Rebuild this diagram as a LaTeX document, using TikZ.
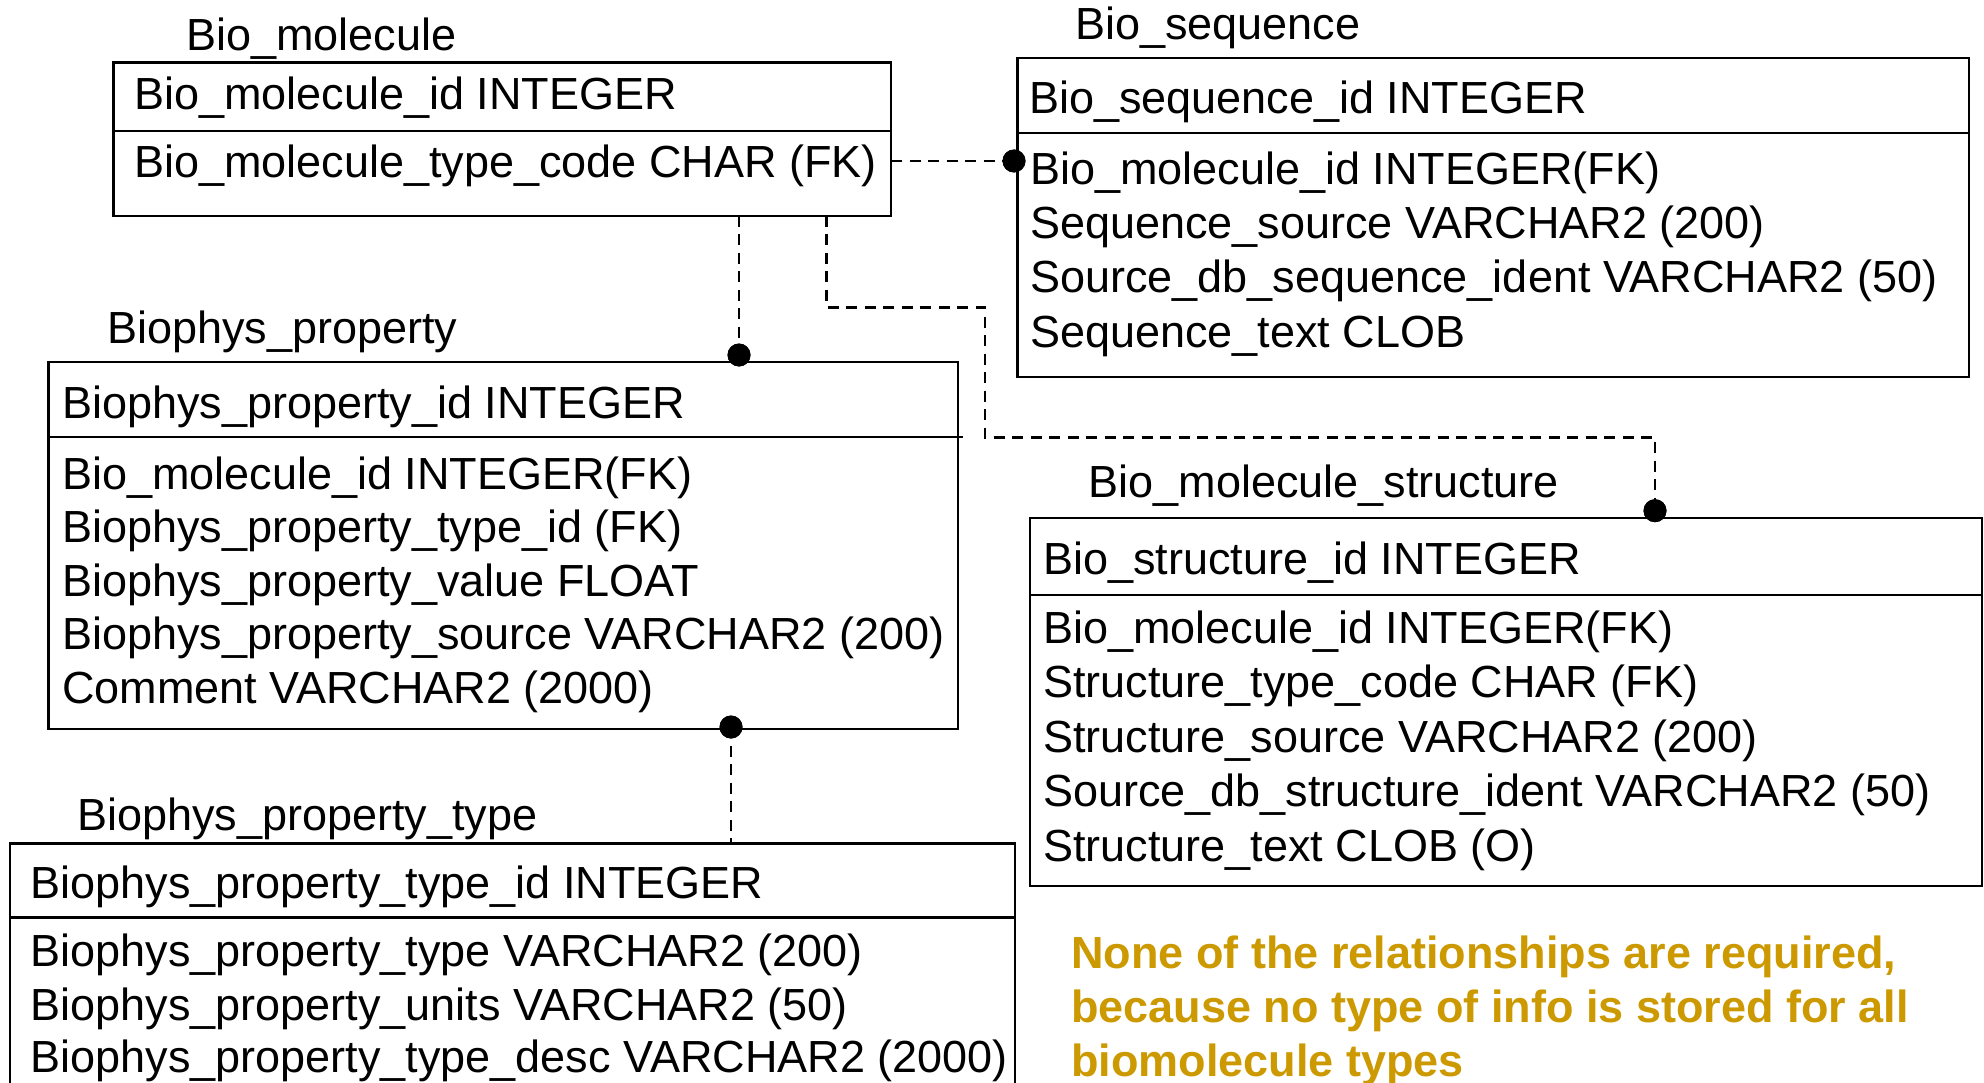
\documentclass[tikz,border=0pt]{standalone}
\usepackage{fontspec}
\setmainfont{Liberation Sans}
\newcommand\tabfont{\fontsize{45}{54}\selectfont}
\newcommand\notefont{\fontsize{45}{54}\selectfont\bfseries}
\definecolor{notecol}{RGB}{204,153,0}
\begin{document}
\begin{tikzpicture}[x=1pt,y=-1pt,
  tbl/.style={draw, line width=2.6pt, rectangle, inner sep=0pt, outer sep=0pt, anchor=north west},
  div/.style={line width=2.6pt},
  ttl/.style={anchor=base west, inner sep=0pt, font=\tabfont},
  fld/.style={anchor=base west, inner sep=0pt, font=\tabfont},
  note/.style={anchor=base west, inner sep=0pt, font=\notefont, text=notecol},
  rel/.style={line width=2.6pt, dash pattern=on 11pt off 7.5pt},
  fkdot/.style={circle, fill=black, minimum size=23pt, inner sep=0pt, outer sep=0pt}
]
\clip (0,0) rectangle (1984,1083);
\fill[white] (0,0) rectangle (1984,1083);

% ---------- Bio_molecule ----------
\node[ttl] (bmt) at (186,50.7) {Bio\_molecule};
\node[tbl, minimum width=777.5pt, minimum height=153.5pt] (bm) at (113.5,62.5) {};
\draw[div] (113.5,131) -- (891,131);
\node[fld] (bm1) at (134,110) {Bio\_molecule\_id INTEGER};
\node[fld] (bm2) at (134,178) {Bio\_molecule\_type\_code CHAR (FK)};

% ---------- Bio_sequence ----------
\node[ttl] (bst) at (1075,40) {Bio\_sequence};
\node[tbl, minimum width=951.5pt, minimum height=319pt] (bs) at (1017.5,58) {};
\draw[div] (1017.5,133) -- (1969,133);
\node[fld] (bs1) at (1029,114) {Bio\_sequence\_id INTEGER};
\node[fld] (bs2) at (1030,185) {Bio\_molecule\_id INTEGER(FK)};
\node[fld] (bs3) at (1030,239) {Sequence\_source VARCHAR2 (200)};
\node[fld] (bs4) at (1030,293) {Source\_db\_sequence\_ident VARCHAR2 (50)};
\node[fld] (bs5) at (1030,347) {Sequence\_text CLOB};

% ---------- Biophys_property ----------
\node[ttl] (bpt0) at (107,343) {Biophys\_property};
\node[tbl, minimum width=909.5pt, minimum height=367pt] (bp) at (48.5,362) {};
\draw[div] (48.5,437) -- (963,437);
\node[fld] (bp1) at (62,418) {Biophys\_property\_id INTEGER};
\node[fld] (bp2) at (62,489) {Bio\_molecule\_id INTEGER(FK)};
\node[fld] (bp3) at (62,542.6) {Biophys\_property\_type\_id (FK)};
\node[fld] (bp4) at (62,596.2) {Biophys\_property\_value FLOAT};
\node[fld] (bp5) at (62,649.8) {Biophys\_property\_source VARCHAR2 (200)};
\node[fld] (bp6) at (62,703.4) {Comment VARCHAR2 (2000)};

% ---------- Biophys_property_type ----------
\node[ttl] (bptt) at (77,830) {Biophys\_property\_type};
\node[tbl, minimum width=1005pt, minimum height=260pt] (bpt) at (10,843.5) {};
\draw[div] (10,917.3) -- (1015,917.3);
\node[fld] (bpt1) at (30.5,898) {Biophys\_property\_type\_id INTEGER};
\node[fld] (bpt2) at (30.5,966.5) {Biophys\_property\_type VARCHAR2 (200)};
\node[fld] (bpt3) at (30.5,1020.5) {Biophys\_property\_units VARCHAR2 (50)};
\node[fld] (bpt4) at (30.5,1072.5) {Biophys\_property\_type\_desc VARCHAR2 (2000)};

% ---------- Bio_molecule_structure ----------
\node[ttl] (bmst) at (1088.5,497) {Bio\_molecule\_structure};
\node[tbl, minimum width=952pt, minimum height=368pt] (bms) at (1030,518) {};
\draw[div] (1030,595) -- (1982,595);
\node[fld] (bms1) at (1043,574) {Bio\_structure\_id INTEGER};
\node[fld] (bms2) at (1043,643.5) {Bio\_molecule\_id INTEGER(FK)};
\node[fld] (bms3) at (1043,697.9) {Structure\_type\_code CHAR (FK)};
\node[fld] (bms4) at (1043,752.3) {Structure\_source VARCHAR2 (200)};
\node[fld] (bms5) at (1043,806.7) {Source\_db\_structure\_ident VARCHAR2 (50)};
\node[fld] (bms6) at (1043,861.1) {Structure\_text CLOB (O)};

% ---------- note ----------
\node[note] (n1) at (1071,968.5) {None of the relationships are required,};
\node[note] (n2) at (1071,1022.5) {because no type of info is stored for all};
\node[note] (n3) at (1071,1076.5) {biomolecule types};

% ---------- relationships ----------
\node[fkdot] (d1) at (1014,161) {};
\node[fkdot] (d2) at (739,355) {};
\node[fkdot] (d3) at (1655,510.7) {};
\node[fkdot] (d4) at (731,727) {};
\coordinate (k1) at (826.7,307.3);
\coordinate (k2) at (985,437.5);

\draw[rel] (bm.east |- d1) -- (d1.center);
\draw[rel] (d2 |- bm.south) -- (d2.center);
\draw[rel] (k1 |- bm.south) -- (k1) -| (k2) -| (d3.center);
\draw[rel] (d4.center) -- (d4 |- bpt.north);

% redraw dots on top
\fill (d1) circle[radius=11.5];
\fill (d2) circle[radius=11.5];
\fill (d3) circle[radius=11.5];
\fill (d4) circle[radius=11.5];
\end{tikzpicture}
\end{document}
